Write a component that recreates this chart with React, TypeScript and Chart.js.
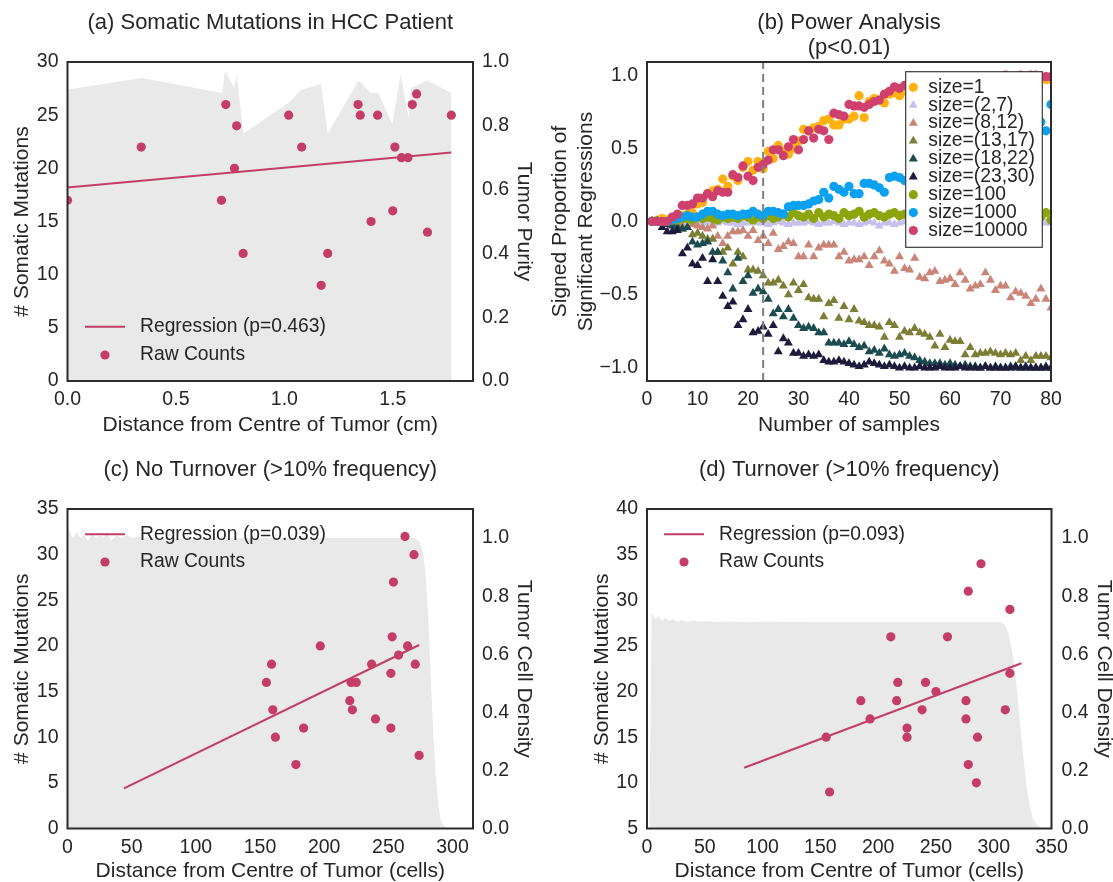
import React, { useEffect, useRef } from 'react';
import { Chart, registerables } from 'chart.js';

Chart.register(...registerables);

const FONT = "'Liberation Sans', Arial, Helvetica, sans-serif";
const TEXT = '#262626';
const PINK = '#c33d66';
const FILL = '#e9e9e9';
const FRAME = '#2b2b2b';
const TICK_SIZE = 19.5;
const AXIS_TITLE_SIZE = 21;
const TITLE_SIZE = 22;
const LEGEND_SIZE = 19.3;

// ---------- Panel (a) ----------
const aDistance = [0.0, 0.34, 0.73, 0.78, 0.77, 0.71, 0.81, 1.02, 1.08, 1.17, 1.2, 1.34, 1.35, 1.43, 1.4, 1.5, 1.51, 1.54, 1.57, 1.59, 1.61, 1.66, 1.77];
const aMutations = [17, 22, 26, 24, 20, 17, 12, 25, 22, 9, 12, 26, 25, 25, 15, 16, 22, 21, 21, 26, 27, 14, 25];
const aRegX = [0, 1.77];
const aRegY = [18.2, 21.5];
const aPurityX = [0, 0.344, 0.714, 0.726, 0.769, 0.78, 0.811, 1.02, 1.077, 1.169, 1.2, 1.342, 1.4, 1.433, 1.498, 1.536, 1.573, 1.585, 1.659, 1.771, 1.771];
const aPurity = [0.914, 0.95, 0.903, 0.971, 0.919, 0.961, 0.776, 0.872, 0.912, 0.932, 0.776, 0.942, 0.903, 0.903, 0.806, 0.961, 0.825, 0.918, 0.942, 0.903, 0];
const aRegLabel = 'Regression (p=0.463)';
const aXTicks = [0, 0.5, 1.0, 1.5];
const aYTicks = [0, 5, 10, 15, 20, 25, 30];
const aPurityTicks = [0, 0.2, 0.4, 0.6, 0.8, 1.0];

// ---------- Panel (b) ----------
const bSamples = [1, 2, 3, 4, 5, 6, 7, 8, 9, 10, 11, 12, 13, 14, 15, 16, 17, 18, 19, 20, 21, 22, 23, 24, 25, 26, 27, 28, 29, 30, 31, 32, 33, 34, 35, 36, 37, 38, 39, 40, 41, 42, 43, 44, 45, 46, 47, 48, 49, 50, 51, 52, 53, 54, 55, 56, 57, 58, 59, 60, 61, 62, 63, 64, 65, 66, 67, 68, 69, 70, 71, 72, 73, 74, 75, 76, 77, 78, 79, 80];
const bThreshold = 23;
const bYMin = -1.09;
const bYMax = 1.09;
const bXTicks = [0, 10, 20, 30, 40, 50, 60, 70, 80];
const bYTicks = [-1.0, -0.5, 0.0, 0.5, 1.0];
const bLabels = ['size=1', 'size=(2,7)', 'size=(8,12)', 'size=(13,17)', 'size=(18,22)', 'size=(23,30)', 'size=100', 'size=1000', 'size=10000'];
const bColors = ['#ffb20f', '#c6c1ec', '#ca8579', '#7b7e34', '#1d4c50', '#1d1a3c', '#8ca50c', '#0ba1f0', '#d0406d'];
const bStyles = ['circle', 'triangle', 'triangle', 'triangle', 'triangle', 'triangle', 'circle', 'circle', 'circle'];
const bSize1 = [0.00, 0.01, 0.02, 0.01, 0.02, 0.03, 0.04, 0.05, 0.06, 0.12,
  0.13, 0.19, 0.21, 0.22, 0.29, 0.24, 0.31, 0.28, 0.37, 0.41,
  0.35, 0.41, 0.36, 0.48, 0.43, 0.52, 0.48, 0.46, 0.50, 0.55,
  0.63, 0.62, 0.64, 0.65, 0.69, 0.70, 0.66, 0.66, 0.70, 0.70,
  0.72, 0.86, 0.71, 0.82, 0.84, 0.83, 0.81, 0.87, 0.88, 0.86,
  0.89, 0.90, 0.88, 0.92, 0.91, 0.93, 0.92, 0.94, 0.93, 0.95,
  0.94, 0.95, 0.96, 0.95, 0.96, 0.97, 0.96, 0.97, 0.98, 0.97,
  0.98, 0.97, 0.98, 0.99, 0.98, 0.99, 0.98, 0.99, 0.97, 0.97];
const bSize2to7 = [0.00, 0.00, -0.01, 0.00, -0.01, -0.01, 0.00, -0.01, -0.01, -0.02,
  -0.01, -0.01, -0.02, -0.01, 0.00, -0.01, -0.01, -0.02, -0.01, -0.01,
  0.00, -0.01, -0.01, -0.02, -0.01, 0.00, -0.01, -0.02, -0.01, -0.01,
  -0.01, 0.00, -0.01, -0.02, -0.01, -0.01, 0.00, -0.01, -0.02, -0.01,
  -0.01, -0.02, -0.01, 0.00, -0.01, -0.03, -0.01, -0.01, -0.02, -0.01,
  0.00, -0.01, -0.02, -0.01, -0.01, 0.00, -0.02, -0.01, -0.01, -0.02,
  -0.01, 0.00, -0.01, -0.01, -0.02, -0.01, 0.00, -0.01, -0.02, -0.01,
  -0.01, -0.02, 0.00, -0.01, -0.01, -0.02, -0.01, 0.00, -0.01, -0.01];
const bSize8to12 = [0.00, 0.00, 0.00, -0.01, -0.02, -0.01, -0.03, -0.04, -0.02, -0.03,
  -0.04, -0.05, -0.03, -0.10, -0.15, -0.10, -0.07, -0.07, -0.06, -0.10,
  -0.06, -0.13, -0.10, -0.15, -0.08, -0.19, -0.17, -0.14, -0.15, -0.24,
  -0.24, -0.16, -0.24, -0.18, -0.16, -0.16, -0.16, -0.24, -0.21, -0.27,
  -0.26, -0.26, -0.24, -0.30, -0.24, -0.20, -0.27, -0.29, -0.34, -0.24,
  -0.32, -0.33, -0.25, -0.38, -0.39, -0.35, -0.34, -0.41, -0.40, -0.39,
  -0.43, -0.35, -0.40, -0.46, -0.44, -0.43, -0.35, -0.40, -0.47, -0.44,
  -0.44, -0.52, -0.48, -0.49, -0.51, -0.56, -0.53, -0.46, -0.53, -0.59];
const bSize13to17 = [0.00, 0.00, -0.01, -0.02, -0.02, -0.03, -0.05, -0.04, -0.09, -0.08,
  -0.10, -0.12, -0.12, -0.21, -0.21, -0.18, -0.29, -0.21, -0.24, -0.33,
  -0.33, -0.34, -0.37, -0.42, -0.42, -0.40, -0.44, -0.50, -0.42, -0.47,
  -0.43, -0.52, -0.53, -0.53, -0.65, -0.56, -0.54, -0.66, -0.58, -0.67,
  -0.60, -0.68, -0.69, -0.71, -0.71, -0.72, -0.79, -0.69, -0.71, -0.79,
  -0.75, -0.76, -0.73, -0.76, -0.77, -0.79, -0.85, -0.77, -0.86, -0.81,
  -0.82, -0.82, -0.91, -0.86, -0.91, -0.90, -0.90, -0.89, -0.90, -0.91,
  -0.90, -0.91, -0.90, -0.95, -0.92, -0.95, -0.92, -0.92, -0.92, -0.93];
const bSize18to22 = [0.00, 0.00, -0.01, -0.02, -0.03, -0.04, -0.05, -0.04, -0.14, -0.16,
  -0.15, -0.14, -0.21, -0.21, -0.27, -0.35, -0.46, -0.25, -0.41, -0.37,
  -0.49, -0.46, -0.48, -0.53, -0.63, -0.60, -0.65, -0.60, -0.66, -0.71,
  -0.73, -0.72, -0.73, -0.76, -0.76, -0.83, -0.83, -0.83, -0.84, -0.82,
  -0.84, -0.86, -0.85, -0.89, -0.88, -0.90, -0.87, -0.91, -0.92, -0.91,
  -0.90, -0.92, -0.93, -0.95, -0.96, -0.97, -0.97, -0.97, -0.98, -0.97,
  -0.98, -0.99, -0.98, -0.99, -0.99, -1.00, -0.99, -1.00, -0.99, -1.00,
  -1.00, -0.99, -1.00, -1.00, -0.99, -1.00, -1.00, -1.00, -0.99, -1.00];
const bSize23to30 = [0.00, 0.00, -0.04, -0.07, -0.07, -0.06, -0.22, -0.18, -0.29, -0.30,
  -0.25, -0.41, -0.26, -0.41, -0.51, -0.58, -0.55, -0.71, -0.67, -0.60,
  -0.76, -0.75, -0.72, -0.77, -0.71, -0.89, -0.80, -0.83, -0.90, -0.90,
  -0.92, -0.91, -0.92, -0.91, -0.95, -0.96, -0.96, -0.95, -0.96, -0.97,
  -0.98, -0.99, -0.98, -0.96, -0.97, -0.98, -0.99, -0.98, -0.99, -1.00,
  -0.99, -1.00, -1.00, -0.99, -1.00, -1.00, -1.00, -0.99, -1.00, -1.00,
  -1.00, -0.99, -1.00, -1.00, -1.00, -1.00, -0.99, -1.00, -1.00, -1.00,
  -1.00, -1.00, -0.99, -1.00, -1.00, -1.00, -1.00, -1.00, -1.00, -1.00];
const bSize100 = [0.00, 0.00, 0.00, 0.00, 0.01, 0.01, 0.02, 0.02, 0.01, 0.03,
  0.02, 0.03, 0.02, 0.01, 0.03, 0.02, 0.03, 0.02, 0.04, 0.03,
  0.01, 0.03, 0.02, 0.04, 0.02, 0.03, 0.05, 0.03, 0.06, 0.04,
  0.03, 0.05, 0.02, 0.06, 0.03, 0.05, 0.04, 0.02, 0.06, 0.04,
  0.05, 0.07, 0.03, 0.05, 0.06, 0.04, 0.03, 0.05, 0.06, 0.04,
  0.05, 0.03, 0.06, 0.04, 0.05, 0.03, 0.05, 0.04, 0.06, 0.04,
  0.05, 0.03, 0.04, 0.06, 0.05, 0.03, 0.04, 0.05, 0.06, 0.04,
  0.03, 0.05, 0.04, 0.02, 0.06, 0.04, 0.05, 0.03, 0.06, 0.01];
const bSize1000 = [0.00, 0.00, 0.00, 0.00, 0.01, 0.02, 0.03, 0.04, 0.03, 0.03,
  0.05, 0.07, 0.07, 0.05, 0.04, 0.05, 0.05, 0.04, 0.05, 0.05,
  0.07, 0.05, 0.04, 0.07, 0.07, 0.06, 0.05, 0.10, 0.11, 0.11,
  0.11, 0.12, 0.14, 0.15, 0.20, 0.16, 0.24, 0.22, 0.20, 0.24,
  0.19, 0.19, 0.26, 0.26, 0.25, 0.23, 0.20, 0.30, 0.31, 0.30,
  0.28, 0.33, 0.31, 0.35, 0.36, 0.34, 0.38, 0.40, 0.39, 0.42,
  0.44, 0.43, 0.47, 0.46, 0.49, 0.50, 0.52, 0.51, 0.55, 0.56,
  0.58, 0.57, 0.60, 0.62, 0.63, 0.66, 0.64, 0.68, 0.62, 0.80];
const bSize10000 = [0.00, 0.00, 0.00, 0.00, 0.03, 0.05, 0.11, 0.11, 0.12, 0.16,
  0.16, 0.19, 0.17, 0.21, 0.20, 0.20, 0.32, 0.30, 0.38, 0.31,
  0.28, 0.37, 0.39, 0.42, 0.49, 0.49, 0.45, 0.51, 0.56, 0.49,
  0.56, 0.62, 0.57, 0.63, 0.62, 0.56, 0.74, 0.73, 0.72, 0.80,
  0.79, 0.79, 0.78, 0.80, 0.82, 0.83, 0.87, 0.89, 0.92, 0.91,
  0.93, 0.92, 0.94, 0.95, 0.94, 0.96, 0.95, 0.97, 0.96, 0.97,
  0.98, 0.97, 0.98, 0.98, 0.99, 0.98, 0.99, 0.99, 0.98, 0.99,
  1.00, 0.99, 0.99, 1.00, 0.99, 1.00, 1.00, 0.99, 0.99, 0.99];
const bSeries = [bSize1, bSize2to7, bSize8to12, bSize13to17, bSize18to22, bSize23to30, bSize100, bSize1000, bSize10000];

// ---------- Panel (c) ----------
const cDistance = [263, 270, 254, 253, 265, 258, 271, 237, 252, 197, 159, 155, 221, 225, 220, 222, 160, 240, 252, 184, 162, 178, 274];
const cMutations = [32, 30, 27, 21, 20, 19, 18, 18, 17, 20, 18, 16, 16, 16, 14, 13, 13, 12, 11, 11, 10, 7, 8];
const cRegX = [44, 274];
const cRegY = [4.4, 20.1];
const cDensityX = [0, 1, 4, 7, 10, 13, 16, 19, 22, 25, 28, 31, 34, 38, 42, 46, 50, 55, 60, 80, 120, 160, 200, 240, 270, 274, 277, 279, 281, 283, 285, 287, 289, 291, 294, 298];
const cDensity = [0, 1.03, 1.0, 1.02, 1.0, 1.01, 0.99, 1.02, 1.0, 1.01, 1.0, 1.02, 0.99, 1.01, 1.0, 1.01, 1.0, 1.005, 1.0, 1.0, 1.0, 1.0, 1.0, 1.0, 1.0, 0.99, 0.95, 0.88, 0.74, 0.53, 0.33, 0.18, 0.08, 0.025, 0.005, 0];
const cRegLabel = 'Regression (p=0.039)';
const cXTicks = [0, 50, 100, 150, 200, 250, 300];
const cYTicks = [0, 5, 10, 15, 20, 25, 30, 35];
const densityTicks = [0, 0.2, 0.4, 0.6, 0.8, 1.0];

// ---------- Panel (d) ----------
const dDistance = [289, 278, 314, 211, 260, 314, 217, 241, 250, 185, 216, 276, 238, 310, 193, 276, 225, 225, 155, 286, 278, 285, 158];
const dMutations = [34, 31, 29, 26, 26, 22, 21, 21, 20, 19, 19, 19, 18, 18, 17, 17, 16, 15, 15, 15, 12, 10, 9];
const dRegX = [84, 324];
const dRegY = [11.65, 23.1];
const dDensityX = [2, 4, 7, 10, 13, 16, 19, 22, 26, 30, 35, 40, 46, 52, 60, 70, 85, 100, 150, 200, 250, 300, 306, 310, 313, 316, 319, 322, 325, 328, 331, 334, 338, 342];
const dDensity = [0, 0.745, 0.72, 0.73, 0.715, 0.725, 0.714, 0.72, 0.712, 0.718, 0.711, 0.716, 0.712, 0.714, 0.711, 0.713, 0.711, 0.712, 0.711, 0.711, 0.711, 0.711, 0.71, 0.70, 0.67, 0.61, 0.52, 0.40, 0.27, 0.16, 0.08, 0.03, 0.01, 0];
const dRegLabel = 'Regression (p=0.093)';
const dXTicks = [0, 50, 100, 150, 200, 250, 300, 350];
const dYTicks = [5, 10, 15, 20, 25, 30, 35, 40];

// ---------- helpers ----------
const xy = (xs: number[], ys: number[]) => xs.map((x, i) => ({ x, y: ys[i] }));
const fmt0 = (v: number) => String(Math.round(v));
const fmt1 = (v: number) => (v < -1e-9 ? '\u2212' : '') + Math.abs(v).toFixed(1);

function makeAxis(o: {
  position: 'left' | 'right' | 'bottom';
  min: number; max: number; ticks: number[];
  fmt: (v: number) => string;
  title: string | string[];
  titlePad: number;
  titleLineHeight?: number;
  boxSize: number;
  tickPad?: number;
}) {
  const horizontal = o.position === 'bottom';
  return {
    type: 'linear',
    position: o.position,
    min: o.min,
    max: o.max,
    bounds: 'data',
    grid: { display: false, drawTicks: false },
    border: { display: false },
    ticks: {
      autoSkip: false,
      maxRotation: 0,
      padding: o.tickPad ?? (horizontal ? 7 : 9),
      color: TEXT,
      font: { family: FONT, size: TICK_SIZE },
      callback: (v: any) => o.fmt(Number(v)),
    },
    afterBuildTicks: (s: any) => {
      s.ticks = o.ticks.map((v) => ({ value: v }));
    },
    title: {
      display: true,
      text: o.title,
      color: TEXT,
      font: { family: FONT, size: AXIS_TITLE_SIZE, lineHeight: o.titleLineHeight ?? 1.2 },
      padding: horizontal ? { top: 0, bottom: o.titlePad } : { top: o.titlePad, bottom: 0 },
    },
    afterFit: (s: any) => {
      if (horizontal) s.height = o.boxSize;
      else s.width = o.boxSize;
    },
  };
}

function titlePlugin(lines: string[], baselines: number[]) {
  return {
    id: 'panelTitle',
    afterDraw(chart: any) {
      const { ctx, chartArea } = chart;
      ctx.save();
      ctx.font = `${TITLE_SIZE}px ${FONT}`;
      ctx.fillStyle = TEXT;
      ctx.textAlign = 'center';
      ctx.textBaseline = 'alphabetic';
      const cx = (chartArea.left + chartArea.right) / 2;
      lines.forEach((t, i) => ctx.fillText(t, cx, baselines[i]));
      ctx.restore();
    },
  };
}

const framePlugin = {
  id: 'frame',
  afterDatasetsDraw(chart: any) {
    const { ctx, chartArea: a } = chart;
    ctx.save();
    ctx.strokeStyle = FRAME;
    ctx.lineWidth = 2;
    ctx.strokeRect(a.left, a.top, a.right - a.left, a.bottom - a.top);
    ctx.restore();
  },
};

function regLegendPlugin(anchor: 'top' | 'bottom', row1: number, row2: number, dx: number) {
  return {
    id: 'regLegend',
    afterDatasetsDraw(chart: any) {
      const { ctx, chartArea: a } = chart;
      const ds = chart.data.datasets;
      const pts = ds[0];
      const reg = ds[1];
      const y1 = anchor === 'top' ? a.top + row1 : a.bottom - row1;
      const y2 = anchor === 'top' ? a.top + row2 : a.bottom - row2;
      const l = a.left + dx;
      ctx.save();
      ctx.strokeStyle = reg.borderColor;
      ctx.lineWidth = 2;
      ctx.beginPath();
      ctx.moveTo(l + 17.5, y1);
      ctx.lineTo(l + 57.5, y1);
      ctx.stroke();
      ctx.fillStyle = pts.backgroundColor;
      ctx.beginPath();
      ctx.arc(l + 37.5, y2, 4.6, 0, Math.PI * 2);
      ctx.fill();
      ctx.fillStyle = TEXT;
      ctx.font = `${LEGEND_SIZE}px ${FONT}`;
      ctx.textAlign = 'left';
      ctx.textBaseline = 'middle';
      ctx.fillText(reg.label, l + 72.5, y1);
      ctx.fillText(pts.label, l + 72.5, y2);
      ctx.restore();
    },
  };
}

function drawMarker(ctx: CanvasRenderingContext2D, style: string, x: number, y: number, r: number) {
  ctx.beginPath();
  if (style === 'triangle') {
    for (let k = 0; k < 3; k++) {
      const ang = (k * 2 * Math.PI) / 3;
      const px = x + Math.sin(ang) * r;
      const py = y - Math.cos(ang) * r;
      if (k === 0) ctx.moveTo(px, py);
      else ctx.lineTo(px, py);
    }
    ctx.closePath();
  } else {
    ctx.arc(x, y, r, 0, Math.PI * 2);
  }
  ctx.fill();
}

const bLegendPlugin = {
  id: 'bLegend',
  afterDatasetsDraw(chart: any) {
    const { ctx, chartArea: a } = chart;
    const items = chart.data.datasets.filter((d: any) => d.type === 'scatter');
    const w = 136.6;
    const h = 175.6;
    const bx = a.right - 8.7 - w;
    const by = a.top + 9.7;
    ctx.save();
    ctx.fillStyle = '#ffffff';
    ctx.fillRect(bx, by, w, h);
    ctx.strokeStyle = '#3a3a3a';
    ctx.lineWidth = 1.2;
    ctx.strokeRect(bx, by, w, h);
    ctx.font = `${LEGEND_SIZE}px ${FONT}`;
    ctx.textAlign = 'left';
    ctx.textBaseline = 'middle';
    items.forEach((d: any, i: number) => {
      const y = by + 15.6 + i * 17.9;
      ctx.fillStyle = d.backgroundColor;
      drawMarker(ctx, d.pointStyle, bx + 7.6, y, d.pointRadius);
      ctx.fillStyle = TEXT;
      ctx.fillText(d.label, bx + 22.6, y);
    });
    ctx.restore();
  },
};

const baseOptions = {
  responsive: false,
  animation: false,
  devicePixelRatio: 1,
  events: [],
};
const basePlugins = { legend: { display: false }, tooltip: { enabled: false }, title: { display: false } };

function scatterPanel(o: {
  xs: number[]; ys: number[]; regX: number[]; regY: number[]; regLabel: string;
  fx: number[]; fy: number[];
  xAxis: any; yAxis: any; y1Axis: any; top: number;
  title: string; titleBaseline: number;
  legend: any;
}) {
  return {
    type: 'scatter',
    data: {
      datasets: [
        { type: 'scatter', label: 'Raw Counts', data: xy(o.xs, o.ys), backgroundColor: PINK, borderWidth: 0, pointRadius: 4.6, xAxisID: 'x', yAxisID: 'y', order: 0 },
        { type: 'line', label: o.regLabel, data: xy(o.regX, o.regY), borderColor: PINK, borderWidth: 2, pointRadius: 0, fill: false, xAxisID: 'x', yAxisID: 'y', order: 1 },
        { type: 'line', label: 'fill', data: xy(o.fx, o.fy), borderWidth: 0, borderColor: FILL, backgroundColor: FILL, pointRadius: 0, fill: 'origin', tension: 0, xAxisID: 'x', yAxisID: 'y1', order: 2 },
      ],
    },
    options: {
      ...baseOptions,
      layout: { padding: { top: o.top, left: 0, right: 0, bottom: 0 } },
      plugins: basePlugins,
      scales: { x: o.xAxis, y: o.yAxis, y1: o.y1Axis },
    },
    plugins: [o.legend, framePlugin, titlePlugin([o.title], [o.titleBaseline])],
  };
}

const buildA = () =>
  scatterPanel({
    xs: aDistance, ys: aMutations, regX: aRegX, regY: aRegY, regLabel: aRegLabel,
    fx: aPurityX, fy: aPurity, top: 62,
    xAxis: makeAxis({ position: 'bottom', min: 0, max: 1.87, ticks: aXTicks, fmt: fmt1, title: 'Distance from Centre of Tumor (cm)', titlePad: 12.5, boxSize: 69 }),
    yAxis: makeAxis({ position: 'left', min: 0, max: 30, ticks: aYTicks, fmt: fmt0, title: '# Somatic Mutations', titlePad: 9.4, boxSize: 67.5 }),
    y1Axis: makeAxis({ position: 'right', min: 0, max: 1, ticks: aPurityTicks, fmt: fmt1, title: 'Tumor Purity', titlePad: 19.4, boxSize: 83 }),
    title: '(a) Somatic Mutations in HCC Patient', titleBaseline: 29,
    legend: regLegendPlugin('bottom', 54.3, 26, 0),
  });

const buildC = () =>
  scatterPanel({
    xs: cDistance, ys: cMutations, regX: cRegX, regY: cRegY, regLabel: cRegLabel,
    fx: cDensityX, fy: cDensity, top: 59,
    xAxis: makeAxis({ position: 'bottom', min: 0, max: 316, ticks: cXTicks, fmt: fmt0, title: 'Distance from Centre of Tumor (cells)', titlePad: 0.5, titleLineHeight: 1.0, boxSize: 53.5 }),
    yAxis: makeAxis({ position: 'left', min: 0, max: 35, ticks: cYTicks, fmt: fmt0, title: '# Somatic Mutations', titlePad: 9.4, boxSize: 67.5 }),
    y1Axis: makeAxis({ position: 'right', min: 0, max: 1.1, ticks: densityTicks, fmt: fmt1, title: 'Tumor Cell Density', titlePad: 19.4, boxSize: 83 }),
    title: '(c) No Turnover (>10% frequency)', titleBaseline: 26,
    legend: regLegendPlugin('top', 25.3, 53, 0),
  });

const buildD = () =>
  scatterPanel({
    xs: dDistance, ys: dMutations, regX: dRegX, regY: dRegY, regLabel: dRegLabel,
    fx: dDensityX, fy: dDensity, top: 59,
    xAxis: makeAxis({ position: 'bottom', min: 0, max: 350, ticks: dXTicks, fmt: fmt0, title: 'Distance from Centre of Tumor (cells)', titlePad: 0.5, titleLineHeight: 1.0, boxSize: 53.5 }),
    yAxis: makeAxis({ position: 'left', min: 5, max: 40, ticks: dYTicks, fmt: fmt0, title: '# Somatic Mutations', titlePad: 33.4, boxSize: 91 }),
    y1Axis: makeAxis({ position: 'right', min: 0, max: 1.1, ticks: densityTicks, fmt: fmt1, title: 'Tumor Cell Density', titlePad: 0, titleLineHeight: 0.9, boxSize: 61.5, tickPad: 10 }),
    title: '(d) Turnover (>10% frequency)', titleBaseline: 26,
    legend: regLegendPlugin('top', 25.3, 53, -0.5),
  });

const buildB = () => {
  const datasets: any[] = bSeries.map((vals, i) => ({
    type: 'scatter',
    label: bLabels[i],
    data: xy(bSamples, vals),
    backgroundColor: bColors[i],
    borderWidth: 0,
    pointStyle: bStyles[i],
    pointRadius: bStyles[i] === 'triangle' ? 5.2 : 4.6,
    order: bSeries.length - i,
  }));
  datasets.push({
    type: 'line',
    label: 'threshold',
    data: [{ x: bThreshold, y: bYMin }, { x: bThreshold, y: bYMax }],
    borderColor: '#7f7f7f',
    borderWidth: 2,
    borderDash: [8, 5],
    pointRadius: 0,
    fill: false,
    order: 0,
  });
  return {
    type: 'scatter',
    data: { datasets },
    options: {
      ...baseOptions,
      layout: { padding: { top: 62, left: 0, right: 62, bottom: 0 } },
      plugins: basePlugins,
      scales: {
        x: makeAxis({ position: 'bottom', min: 0, max: 80, ticks: bXTicks, fmt: fmt0, title: 'Number of samples', titlePad: 12.5, boxSize: 69 }),
        y: makeAxis({ position: 'left', min: bYMin, max: bYMax, ticks: bYTicks, fmt: fmt1, title: ['Signed Proportion of', 'Significant Regressions'], titlePad: 16.9, titleLineHeight: 1.25, boxSize: 117 }),
      },
    },
    plugins: [bLegendPlugin, framePlugin, titlePlugin(['(b) Power Analysis', '(p<0.01)'], [29, 54])],
  };
};

function PanelCanvas(props: { left: number; top: number; width: number; height: number; build: () => any }) {
  const ref = useRef<HTMLCanvasElement | null>(null);
  useEffect(() => {
    if (!ref.current) return;
    const chart = new Chart(ref.current, props.build());
    return () => chart.destroy();
  }, []);
  return (
    <canvas
      ref={ref}
      width={props.width}
      height={props.height}
      style={{ position: 'absolute', left: props.left, top: props.top, width: props.width, height: props.height }}
    />
  );
}

export default function App() {
  return (
    <div style={{ position: 'fixed', left: 0, top: 0, width: 1113, height: 882, background: '#ffffff', overflow: 'hidden' }}>
      <PanelCanvas left={0} top={0} width={556} height={450} build={buildA} />
      <PanelCanvas left={530} top={0} width={583} height={450} build={buildB} />
      <PanelCanvas left={0} top={450} width={556} height={432} build={buildC} />
      <PanelCanvas left={556} top={450} width={557} height={432} build={buildD} />
    </div>
  );
}
